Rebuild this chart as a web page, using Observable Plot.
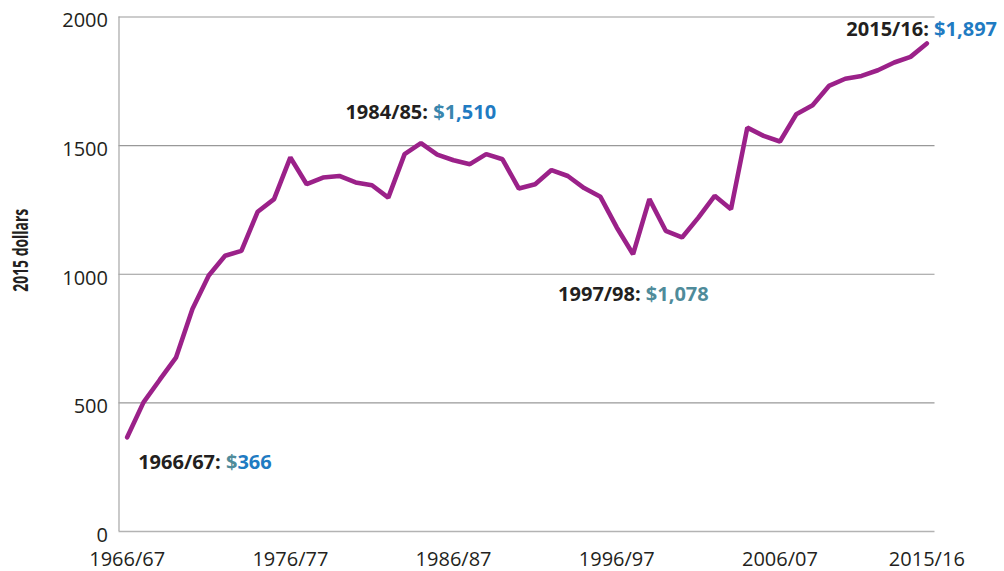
<!DOCTYPE html>
<html>
<head>
<meta charset="utf-8">
<script src="https://cdn.jsdelivr.net/npm/d3@7"></script>
<script src="https://cdn.jsdelivr.net/npm/@observablehq/plot@0.6"></script>
<style>
  html, body { margin: 0; padding: 0; background: #fff; }
  #chart { width: 1004px; height: 571px; }
</style>
</head>
<body>
<div id="chart"></div>
<script>
// ---- data ----
const years = [
  "1966/67","1967/68","1968/69","1969/70","1970/71","1971/72","1972/73","1973/74","1974/75","1975/76",
  "1976/77","1977/78","1978/79","1979/80","1980/81","1981/82","1982/83","1983/84","1984/85","1985/86",
  "1986/87","1987/88","1988/89","1989/90","1990/91","1991/92","1992/93","1993/94","1994/95","1995/96",
  "1996/97","1997/98","1998/99","1999/00","2000/01","2001/02","2002/03","2003/04","2004/05","2005/06",
  "2006/07","2007/08","2008/09","2009/10","2010/11","2011/12","2012/13","2013/14","2014/15","2015/16"
];
const values = [
  366, 502, 590, 677, 865, 995, 1072, 1091, 1243, 1292,
  1454, 1350, 1376, 1382, 1357, 1346, 1298, 1467, 1510, 1465,
  1443, 1428, 1467, 1447, 1333, 1350, 1405, 1382, 1335, 1301,
  1182, 1078, 1292, 1169, 1143, 1220, 1305, 1253, 1570, 1538,
  1516, 1622, 1657, 1732, 1760, 1771, 1793, 1823, 1845, 1897
];
const xTickYears = ["1966/67","1976/77","1986/87","1996/97","2006/07","2015/16"];
const yTicks = [0, 500, 1000, 1500, 2000];
const annYears = ["1966/67","1984/85","1997/98","2015/16"];
const annValues = ["$366","$1,510","$1,078","$1,897"];
const yLabel = "2015 dollars";

// ---- styles ----
const teal = "#4f8b9a", blue = "#1f7bc2", ink = "#231f20";
const annOffsets = [[11, 25], [-75.5, -30], [-75, 40.5], [-80.5, -14]];
const annColors = [
  [[1, teal], [3, blue]],
  [[2, "#3a86ad"], [4, blue]],
  [[6, teal]],
  [[6, blue]]
];

const table = years.map((y, i) => ({i, year: y, value: values[i]}));
const idx = y => years.indexOf(y);
const annData = annYears.map((y, k) => ({i: idx(y), value: values[idx(y)], text: `${y}: ${annValues[k]}`}));

const plot = Plot.plot({
  width: 1004,
  height: 571,
  marginLeft: 118.5,
  marginRight: 69.5,
  marginTop: 16.5,
  marginBottom: 40,
  style: {fontFamily: "'Open Sans', sans-serif", fontSize: "20px", color: ink, background: "#fff"},
  x: {domain: [-0.5, 49.5], label: null},
  y: {domain: [0, 2000], label: null},
  marks: [
    Plot.ruleY(yTicks.filter(d => d > 0), {stroke: "#999", strokeWidth: 1.2, strokeOpacity: 1}),
    Plot.ruleY([0], {stroke: "#b3b3b3", strokeWidth: 1.5, strokeOpacity: 1}),
    Plot.ruleX([-0.5], {y1: 0, y2: 2000, stroke: "#a6a6a6", strokeWidth: 1.2, strokeOpacity: 1}),
    Plot.axisX(xTickYears.map(idx), {tickSize: 0, tickPadding: 20.5, tickFormat: i => years[i], label: null, fill: ink}),
    Plot.axisY(yTicks, {tickSize: 0, tickPadding: 11, dy: 4, tickFormat: d => String(d), label: null, fill: ink}),
    Plot.line(table, {x: "i", y: "value", stroke: "#9b2189", strokeWidth: 4.6, strokeLinejoin: "miter", strokeLinecap: "round"}),
    ...annData.map((d, k) => Plot.text([d], {
      x: "i", y: "value", text: "text", textAnchor: "start", lineAnchor: "middle",
      dx: annOffsets[k][0], dy: annOffsets[k][1], fontWeight: "bold", fill: ink, fontSize: 20
    })),
    Plot.text([yLabel], {frameAnchor: "left", rotate: -90, dx: -98.5, dy: -24, fontWeight: "bold", fontSize: 22, fill: ink, textAnchor: "middle", lineAnchor: "middle"})
  ]
});

// colour the value part of each annotation
const ns = "http://www.w3.org/2000/svg";
plot.querySelectorAll("text").forEach(t => {
  const k = annData.findIndex(d => d.text === t.textContent);
  if (k >= 0) {
    const label = annYears[k] + ": ";
    const val = annValues[k];
    t.textContent = "";
    const s0 = document.createElementNS(ns, "tspan");
    s0.textContent = label; s0.setAttribute("fill", ink);
    t.appendChild(s0);
    let pos = 0;
    annColors[k].forEach(([len, col]) => {
      const s = document.createElementNS(ns, "tspan");
      s.textContent = val.slice(pos, pos + len); s.setAttribute("fill", col);
      pos += len;
      t.appendChild(s);
    });
  }
  if (t.textContent === yLabel) {
    t.setAttribute("textLength", "83");
    t.setAttribute("lengthAdjust", "spacingAndGlyphs");
  }
});

document.getElementById("chart").appendChild(plot);
</script>
</body>
</html>
